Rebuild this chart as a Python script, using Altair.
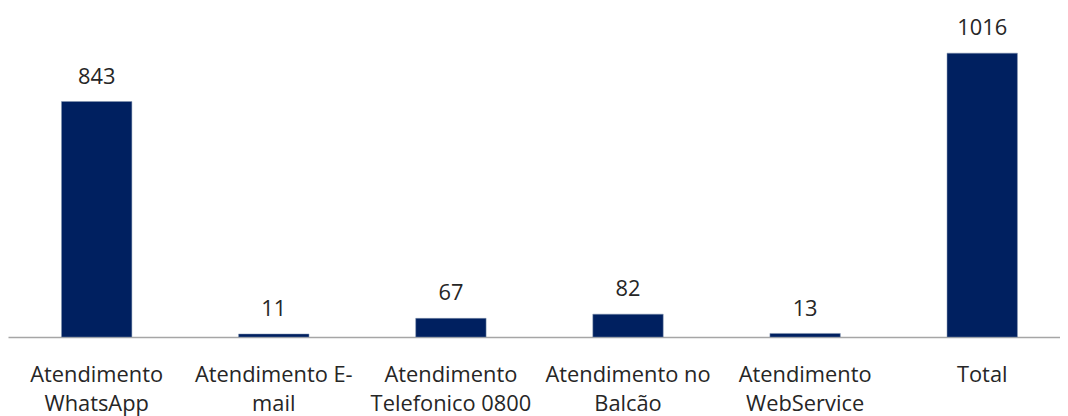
import altair as alt
import pandas as pd

categories = [
    "Atendimento\nWhatsApp",
    "Atendimento E-\nmail",
    "Atendimento\nTelefonico 0800",
    "Atendimento no\nBalcão",
    "Atendimento\nWebService",
    "Total",
]
values = [843, 11, 67, 82, 13, 1016]

df = pd.DataFrame({"categoria": categories, "valor": values})

x = alt.X(
    "categoria:N",
    sort=categories,
    title=None,
    scale=alt.Scale(range=[0, 1071], paddingInner=0.6025, paddingOuter=0.302),
    axis=alt.Axis(
        labelAngle=0,
        labelExpr="split(datum.label, '\\n')",
        labelFont="Open Sans",
        labelFontSize=22,
        labelColor="#262626",
        labelLineHeight=29,
        labelPadding=28,
        ticks=False,
        domainColor="#A6A6A6",
        domainWidth=1.5,
        labelLimit=300,
    ),
)
y = alt.Y(
    "valor:Q",
    scale=alt.Scale(domain=[0, 1172], nice=False),
    axis=None,
)

bars = alt.Chart(df).mark_bar(color="#002060", stroke="#8496B0", strokeWidth=0.5).encode(x=x, y=y)
labels = alt.Chart(df).mark_text(
    font="Open Sans", fontSize=22, color="#262626", baseline="alphabetic", dy=-18
).encode(x=x, y=y, text="valor:Q")

chart = (
    alt.layer(bars, labels)
    .properties(
        width=1060,
        height=330,
        autosize=alt.AutoSizeParams(type="none"),
        padding={"left": 0, "right": 0, "top": 0, "bottom": 80},
    )
    .configure_view(stroke=None)
)

chart.save("out.html", embed_options={"renderer": "svg", "actions": False})
